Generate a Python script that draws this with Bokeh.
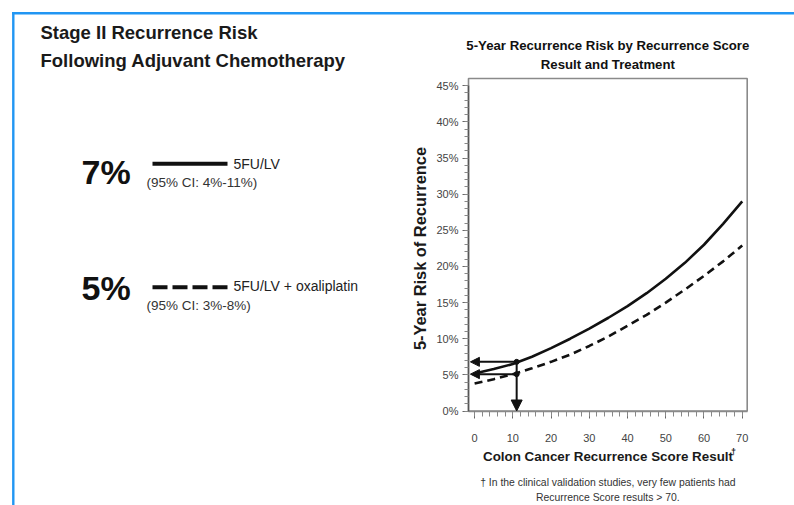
from bokeh.plotting import figure
from bokeh.models import (Range1d, FixedTicker, PrintfTickFormatter, Arrow, NormalHead)
from bokeh.core.properties import value
from bokeh.embed import file_html
from bokeh.resources import INLINE

# ---------------- data ----------------
score = [0, 5, 10, 15, 20, 25, 30, 35, 40, 45, 50, 55, 60, 65, 70]
risk_5fu_lv = [5.2, 5.8, 6.5, 7.5, 8.7, 10.0, 11.4, 12.9, 14.5, 16.3, 18.3, 20.5, 23.0, 25.9, 29.0]
risk_5fu_lv_oxa = [3.8, 4.4, 5.1, 5.9, 6.8, 7.8, 9.0, 10.3, 11.8, 13.3, 15.0, 16.8, 18.7, 20.7, 22.9]
marker_score = 11
marker_risk = [6.8, 5.1]
y_ticks = [0, 5, 10, 15, 20, 25, 30, 35, 40, 45]
y_minor = list(range(0, 46))
x_ticks = [0, 10, 20, 30, 40, 50, 60, 70]
x_minor = list(range(0, 71, 2))
summary_pct = ["7%", "5%"]
treatments = ["5FU/LV", "5FU/LV + oxaliplatin"]
conf_int = ["(95% CI: 4%-11%)", "(95% CI: 3%-8%)"]
left_title = ["Stage II Recurrence Risk", "Following Adjuvant Chemotherapy"]
chart_title = ["5-Year Recurrence Risk by Recurrence Score", "Result and Treatment"]
footnote = ["\u2020 In the clinical validation studies, very few patients had",
            "Recurrence Score results > 70."]

BLUE = "#2196f3"
SANS = "Liberation Sans"
INK = "#111111"

# ---------------- layout (page pixels) ----------------
W, H = 794, 505
BOX_L, BOX_R, BOX_T, BOX_B = 468.0, 746.7, 78.0, 410.5   # chart box on the page
X0, X1 = -1.6, 71.3        # score shown inside the box
Y0, Y1 = 0.0, 46.0         # risk (%) shown inside the box
kx = (X1 - X0) / (BOX_R - BOX_L)
ky = (Y1 - Y0) / (BOX_B - BOX_T)

p = figure(width=W, height=H,
           x_range=Range1d(X0 - BOX_L * kx, X1 + (W - BOX_R) * kx),
           y_range=Range1d(Y0 - (H - BOX_B) * ky, Y1 + BOX_T * ky),
           output_backend="svg", toolbar_location=None, title=None,
           min_border=0, min_border_left=0, min_border_right=0,
           min_border_top=0, min_border_bottom=0, outline_line_color=None)
p.extra_x_ranges = {"page": Range1d(0, W)}
p.extra_y_ranges = {"page": Range1d(H, 0)}
p.xgrid.visible = False
p.ygrid.visible = False

# chart box
p.quad(left=[X0], right=[X1], bottom=[Y0], top=[Y1], fill_color=None,
       line_color="#8a8a8a", line_width=1.6)

# ---- y axis ----
ya = p.yaxis[0]
ya.fixed_location = X0
ya.bounds = (Y0, y_ticks[-1])
ya.ticker = FixedTicker(ticks=y_ticks, minor_ticks=y_minor)
ya.formatter = PrintfTickFormatter(format="%d%%")
ya.axis_label = "5-Year Risk of Recurrence"
ya.axis_label_text_font = SANS
ya.axis_label_text_font_size = "16.4px"
ya.axis_label_text_font_style = "bold"
ya.axis_label_text_color = "#1a1a1a"
ya.axis_label_standoff = 4
ya.axis_line_color = "#555555"
ya.axis_line_width = 1.5
ya.major_tick_out = 6
ya.major_tick_in = 0
ya.minor_tick_out = 4
ya.minor_tick_in = 0
ya.major_tick_line_color = "#666666"
ya.minor_tick_line_color = "#888888"
ya.major_label_standoff = 4

# ---- x axis ----
xa = p.xaxis[0]
xa.fixed_location = Y0
xa.bounds = (X0, X1)
xa.ticker = FixedTicker(ticks=x_ticks, minor_ticks=x_minor)
xa.axis_label = "Colon Cancer Recurrence Score Result"
xa.axis_label_text_font = SANS
xa.axis_label_text_font_size = "13.4px"
xa.axis_label_text_font_style = "bold"
xa.axis_label_text_color = "#1a1a1a"
xa.axis_label_standoff = 3
xa.axis_line_color = "#8a8a8a"
xa.axis_line_width = 1.5
xa.major_tick_out = 7
xa.major_tick_in = 0
xa.minor_tick_out = 5
xa.minor_tick_in = 0
xa.major_tick_line_color = "#666666"
xa.minor_tick_line_color = "#888888"
xa.major_label_standoff = 16

for ax in (xa, ya):
    ax.major_label_text_font = SANS
    ax.major_label_text_font_size = "11px"
    ax.major_label_text_color = "#444444"

# ---- curves ----
p.line(score, risk_5fu_lv, line_color=INK, line_width=2.6)
p.line(score, risk_5fu_lv_oxa, line_color=INK, line_width=2.6, line_dash="8 5")

arrow_tip_x = X0 + 0.5
for r in marker_risk:
    p.add_layout(Arrow(end=NormalHead(size=9, fill_color=INK, line_color=INK),
                       x_start=marker_score, y_start=r, x_end=arrow_tip_x, y_end=r,
                       line_color=INK, line_width=2))
p.add_layout(Arrow(end=NormalHead(size=11, fill_color=INK, line_color=INK),
                   x_start=marker_score, y_start=marker_risk[0], x_end=marker_score,
                   y_end=Y0, line_color=INK, line_width=2))
p.scatter([marker_score] * len(marker_risk), marker_risk, size=5, color=INK)

# ---------------- page-positioned texts and decorations ----------------
PG = dict(x_range_name="page", y_range_name="page")


def txt(xs, ys, texts, size, bold=False, color=INK, align="left"):
    p.text(x=xs, y=ys, text=texts, text_font=value(SANS), text_font_size=size,
           text_font_style="bold" if bold else "normal", text_color=color,
           text_align=align, text_baseline="middle", **PG)


# blue border
p.segment(x0=[11.6, 12.8], y0=[12.8, 11.6], x1=[W, 12.8], y1=[12.8, H],
          line_color=BLUE, line_width=2.4, **PG)

txt([40, 40], [31.5, 60], left_title, "18.5px", bold=True, color="#1a1a1a")

pct_mid = [171.7, 287.8]
swatch_y = [163.3, 286.7]
name_mid = [163.3, 285.3]
ci_mid = [182, 304.6]
txt([81, 81], pct_mid, summary_pct, "34px", bold=True)
txt([233, 233], name_mid, treatments, "14px", color="#222222")
txt([146, 146], ci_mid, conf_int, "13.5px", color="#333333")

p.line(x=[152, 227], y=[swatch_y[0]] * 2, line_color=INK, line_width=4, **PG)
p.line(x=[152, 227], y=[swatch_y[1]] * 2, line_color=INK, line_width=4,
       line_dash="15 5", **PG)

mid_x = (BOX_L + BOX_R) / 2
txt([mid_x, mid_x], [44.5, 64], chart_title, "13.2px", bold=True, align="center")
txt([mid_x, mid_x], [482, 496.5], footnote, "10.4px", color="#333333", align="center")
# superscript dagger of the x-axis label
txt([730.5], [451], ["\u2020"], "9px", bold=True, color="#1a1a1a")

open("out.html", "w").write(file_html(p, INLINE))
